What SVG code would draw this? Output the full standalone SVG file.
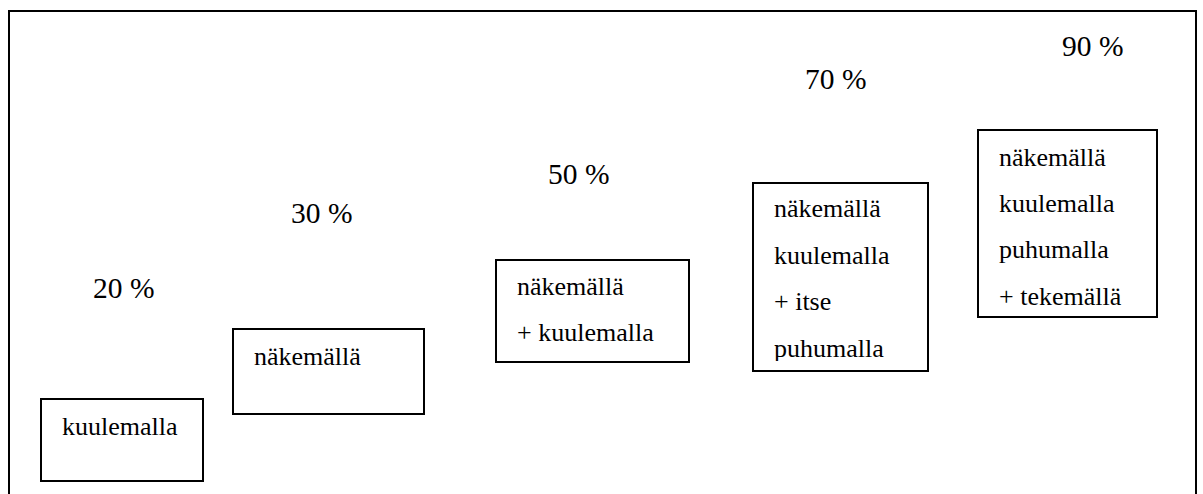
<svg xmlns="http://www.w3.org/2000/svg" width="1203" height="494" viewBox="0 0 1203 494">
<style>
.frame{fill:none;stroke:#000;stroke-width:2}
.box{fill:#fff;stroke:#000;stroke-width:2}
text{fill:#000}
.t{font-family:'Liberation Serif','Times New Roman',serif;font-size:26px}
.p{font-family:'Liberation Serif','Times New Roman',serif;font-size:29.5px}
</style>
<defs>
<clipPath id="c4"><rect x="753" y="183" width="175" height="178"/></clipPath>
</defs>
<rect width="1203" height="494" fill="#fff"/>
<rect class="frame" x="9" y="11" width="1187" height="500"/>
<g id="connectors"></g>
<g id="lbl20"><text class="p" x="93" y="298">20 %</text></g>
<g id="lbl30"><text class="p" x="291" y="223">30 %</text></g>
<g id="lbl50"><text class="p" x="548" y="184">50 %</text></g>
<g id="lbl70"><text class="p" x="805" y="89">70 %</text></g>
<g id="lbl90"><text class="p" x="1062" y="56">90 %</text></g>
<g id="box1">
<rect class="box" x="41" y="399" width="162" height="82"/>
<text class="t" x="62" y="435">kuulemalla</text>
</g>
<g id="box2">
<rect class="box" x="233" y="329" width="191" height="85"/>
<text class="t" x="254" y="365">näkemällä</text>
</g>
<g id="box3">
<rect class="box" x="496" y="260" width="193" height="102"/>
<text class="t" x="517" y="295">näkemällä</text>
<text class="t" x="517" y="341">+ kuulemalla</text>
</g>
<g id="box4">
<rect class="box" x="753" y="183" width="175" height="188"/>
<g clip-path="url(#c4)">
<text class="t" x="774" y="217">näkemällä</text>
<text class="t" x="774" y="264">kuulemalla</text>
<text class="t" x="774" y="310">+ itse</text>
<text class="t" x="774" y="357">puhumalla</text>
</g>
</g>
<g id="box5">
<rect class="box" x="978" y="130" width="179" height="187"/>
<text class="t" x="999" y="166">näkemällä</text>
<text class="t" x="999" y="212">kuulemalla</text>
<text class="t" x="999" y="258">puhumalla</text>
<text class="t" x="999" y="305">+ tekemällä</text>
</g>
</svg>
